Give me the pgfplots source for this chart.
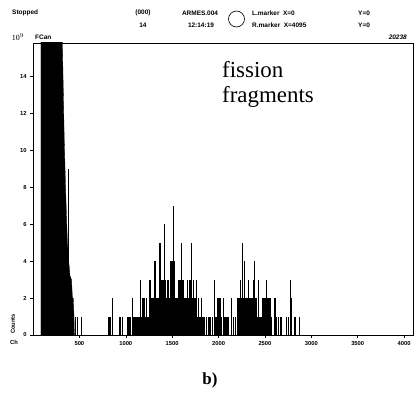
\documentclass[border=0pt]{standalone}
\usepackage{fontspec}
\setmainfont{Liberation Serif}
\newfontfamily\dotfont{Liberation Sans}
\usepackage{pgfplots}
\pgfplotsset{compat=1.18}

\newcommand\hdr{\dotfont\bfseries\fontsize{6.5}{7}\selectfont}
\newcommand\tck{\dotfont\bfseries\fontsize{5.8}{6}\selectfont}

\begin{document}
\begin{tikzpicture}[x=1bp,y=1bp]
\path[use as bounding box] (0,0) rectangle (416,403);

% header of the analyser screen
\node[anchor=west,inner sep=0] at (12,390) {\hdr Stopped};
\node[inner sep=0] at (143,390) {\hdr (000)};
\node[inner sep=0] at (143,378) {\hdr 14};
\node[inner sep=0] at (200,390) {\hdr ARMES.004};
\node[inner sep=0] at (201,378) {\hdr 12:14:19};
\draw[line width=0.6bp] (236.5,384) circle (8);
\node[anchor=west,inner sep=0] at (252,390) {\hdr L.marker\ \ X=0};
\node[anchor=west,inner sep=0] at (252,378) {\hdr R.marker\ \ X=4095};
\node[anchor=west,inner sep=0] at (358,390) {\hdr Y=0};
\node[anchor=west,inner sep=0] at (358,378) {\hdr Y=0};
\node[inner sep=0] at (18,366) {\fontsize{8}{9}\selectfont 10$^{9}$};
\node[anchor=west,inner sep=0] at (35,366) {\hdr FCan};
\node[anchor=east,inner sep=0] at (407,366) {\hdr\itshape 20238};

\begin{axis}[
  at={(33bp,68bp)}, anchor=south west, scale only axis,
  width=380bp, height=292bp,
  xmin=0, xmax=4096, ymin=0, ymax=15.8,
  xtick={500,1000,...,4000}, ytick={0,2,...,14},
  xtick pos=left, ytick pos=left,
  tick align=outside, major tick length=3bp,
  tick style={black, line width=0.5bp},
  axis line style={black, line width=0.9bp},
  ticklabel style={font=\tck},
  /pgf/number format/assume math mode=true,
  /pgf/number format/set thousands separator={},
  clip=true,
]
% low-channel peak, far off scale (top count 20238)
\addplot[fill=black, draw=black, line width=0.3bp] coordinates {
  (86,0) (86,30) (316,30) (316,16) (337,10.5) (352,7.8) (370,5.1)
  (385,4) (399,3.2) (415,3) (425,2) (434,2) (442,1) (446,0)} -- cycle;
% fission fragment channels
\addplot[ycomb, black, line width=1.1bp, mark=none] coordinates {
  (380,9) (460,1) (478,1) (525,1) (819,1) (838,1) (859,2) (938,1) (967,1)
  (1024,1) (1046,1) (1075,2) (1089,1) (1100,1) (1110,1) (1121,1) (1132,1)
  (1143,1) (1161,3) (1175,1) (1186,2) (1200,2) (1213,1) (1226,2) (1240,1)
  (1252,2) (1261,3) (1270,2) (1280,2) (1290,2) (1300,2) (1308,4) (1316,2)
  (1323,4) (1337,2) (1345,2) (1351,2) (1362,2) (1369,5) (1378,3) (1387,3)
  (1394,3) (1401,3) (1408,3) (1415,6) (1426,3) (1434,2) (1441,2) (1450,3)
  (1459,3) (1468,2) (1476,2) (1484,4) (1490,4) (1495,4) (1503,4) (1512,7)
  (1518,4) (1523,4) (1531,2) (1540,2) (1549,2) (1557,2) (1566,3) (1575,2)
  (1585,3) (1594,2) (1603,5) (1612,3) (1620,3) (1630,2) (1639,2) (1648,2)
  (1657,2) (1663,3) (1672,2) (1680,2) (1692,3) (1700,2) (1711,5) (1719,2)
  (1728,3) (1737,2) (1746,2) (1756,2) (1765,3) (1773,1) (1782,2) (1791,1)
  (1800,1) (1810,1) (1819,2) (1828,1) (1836,1) (1848,1) (1873,1) (1887,1)
  (1908,1) (1930,1) (1959,3) (1973,1) (1994,2) (2016,2) (2034,1) (2051,2)
  (2070,1) (2088,1) (2102,1) (2142,2) (2159,1) (2178,1) (2200,1) (2210,2)
  (2221,2) (2230,1) (2239,3) (2250,2) (2261,5) (2268,2) (2275,4) (2285,2)
  (2295,1) (2304,2) (2311,2) (2318,3) (2328,2) (2339,2) (2348,2) (2358,2)
  (2365,2) (2372,2) (2379,3) (2386,4) (2396,2) (2404,2) (2412,2) (2420,1)
  (2429,3) (2438,1) (2447,1) (2456,1) (2465,1) (2472,2) (2479,2) (2490,2)
  (2501,2) (2510,2) (2519,3) (2526,2) (2533,2) (2545,1) (2555,2) (2565,1)
  (2573,1) (2609,2) (2627,1) (2644,1) (2663,1) (2681,1) (2735,1) (2752,1)
  (2778,3) (2789,2) (2824,1) (2871,1)};
\end{axis}

\node[rotate=90,inner sep=0] at (13,79) {\tck Counts};
\node[inner sep=0] at (14,61) {\tck Ch};

\node[anchor=base west,inner sep=0] at (222,326) {\fontsize{23}{25}\selectfont fission};
\node[anchor=base west,inner sep=0] at (222,301) {\fontsize{23}{25}\selectfont fragments};
\node[inner sep=0] at (210,23) {\fontsize{17}{19}\selectfont\bfseries b)};
\end{tikzpicture}
\end{document}
